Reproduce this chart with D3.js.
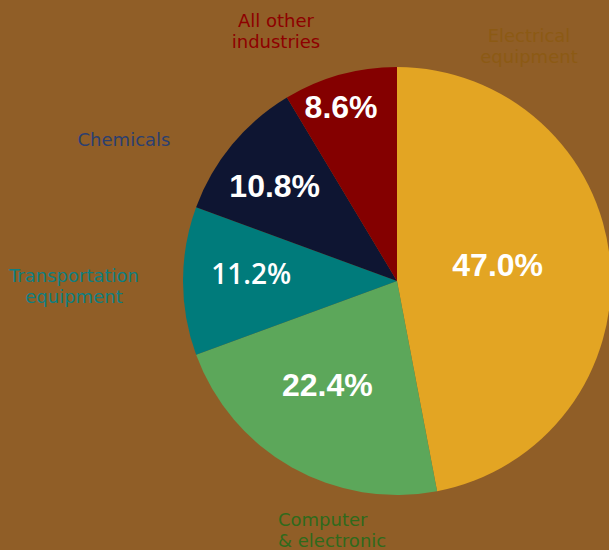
<!DOCTYPE html>
<html>
<head>
<meta charset="utf-8">
<script src="https://cdn.jsdelivr.net/npm/d3@7"></script>
<style>
  html, body { margin: 0; padding: 0; background: #905E27; }
  svg { display: block; }
</style>
</head>
<body>
<svg id="chart" width="609" height="550"></svg>
<script>
// ---- Data ----
const categories = ["Electrical equipment", "Computer & electronic", "Transportation equipment", "Chemicals", "All other industries"];
const values = [47.0, 22.4, 11.2, 10.8, 8.6];
const valueLabels = ["47.0%", "22.4%", "11.2%", "10.8%", "8.6%"];
const sliceColors = ["#E3A523", "#5CA75A", "#007B7B", "#0E1532", "#840000"];
const nameColors = ["#8C5A14", "#2F6A1C", "#0E7E80", "#2B3F70", "#8E0000"];

// ---- Layout constants ----
const W = 609, H = 550;
const cx = 397, cy = 281, R = 214;
const labelAngleDeg = [80.7, 213.9, 273.1, 307.9, 342.2];
const labelDist = [102, 125, 146, 155, 183];
const nameLines = [["Electrical", "equipment"], ["Computer", "& electronic"], ["Transportation", "equipment"], ["Chemicals"], ["All other", "industries"]];
const namePos = [[529, 42, "middle"], [278, 526, "start"], [74, 282, "middle"], [124, 146, "middle"], [276, 27, "middle"]];

const svg = d3.select("#chart");
svg.append("rect").attr("width", W).attr("height", H).attr("fill", "#905E27");

const pie = d3.pie().value(d => d).sort(null);
const arcs = pie(values);
const arc = d3.arc().innerRadius(0).outerRadius(R);

const g = svg.append("g").attr("transform", `translate(${cx},${cy})`);
g.selectAll("path.slice")
  .data(arcs)
  .join("path")
  .attr("class", "slice")
  .attr("d", arc)
  .attr("fill", (d, i) => sliceColors[i]);

// percentage labels
g.selectAll("text.pct")
  .data(arcs)
  .join("text")
  .attr("class", "pct")
  .attr("x", (d, i) => labelDist[i] * Math.sin(labelAngleDeg[i] * Math.PI / 180))
  .attr("y", (d, i) => -labelDist[i] * Math.cos(labelAngleDeg[i] * Math.PI / 180))
  .attr("text-anchor", "middle")
  .attr("dominant-baseline", "central")
  .attr("fill", "#ffffff")
  .style("font-family", (d, i) => i === 2 ? "'Open Sans', sans-serif" : "'Liberation Sans', Arial, sans-serif")
  .style("font-weight", (d, i) => i === 2 ? 600 : 700)
  .style("font-size", (d, i) => i === 2 ? "28px" : "32px")
  .text((d, i) => valueLabels[i]);

// category labels
categories.forEach((c, i) => {
  const t = svg.append("text")
    .attr("x", namePos[i][0])
    .attr("y", namePos[i][1])
    .attr("text-anchor", namePos[i][2])
    .attr("fill", nameColors[i])
    .style("font-family", "'DejaVu Sans', Verdana, sans-serif")
    .style("font-size", "18px");
  nameLines[i].forEach((ln, j) => {
    t.append("tspan").attr("x", namePos[i][0]).attr("dy", j === 0 ? 0 : 21).text(ln);
  });
});
</script>
</body>
</html>
